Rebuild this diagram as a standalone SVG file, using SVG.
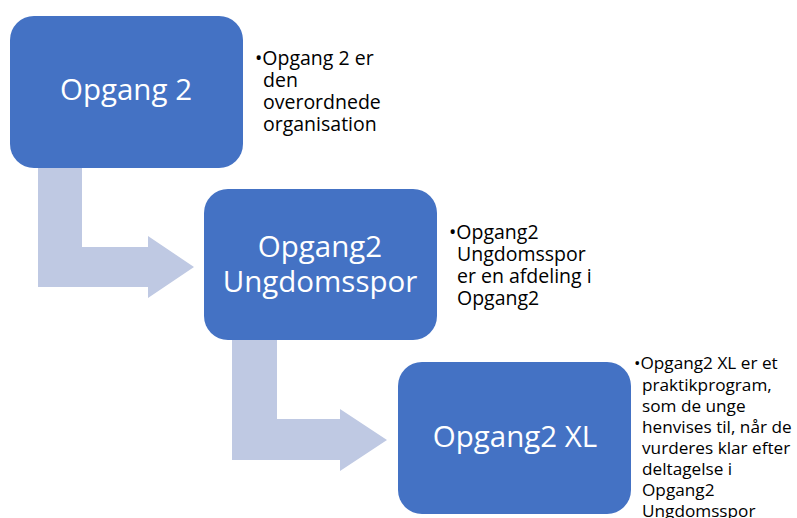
<svg xmlns="http://www.w3.org/2000/svg" width="797" height="518" viewBox="0 0 797 518">
<style>
.box{fill:#4472C4;}
.arrow{fill:#BFC9E3;}
.lbl{font-family:"Open Sans","Liberation Sans",sans-serif;font-size:29.5px;fill:#FFFFFF;text-anchor:middle;}
.txt{font-family:"Open Sans","Liberation Sans",sans-serif;font-size:19.5px;fill:#000000;}
.txt3{font-family:"Open Sans","Liberation Sans",sans-serif;font-size:17.2px;fill:#000000;}
</style>
<rect width="797" height="518" fill="#FFFFFF"/>
<g id="connectors">
<path class="arrow" d="M38,167 H82 V247 H148 V236 L194,267 L148,298 V287 H38 Z"/>
<path class="arrow" d="M232,340 H277 V419 H340 V409 L387,440 L340,471 V460 H232 Z"/>
</g>
<g id="node-opgang2">
<rect class="box" x="10" y="16" width="233" height="152" rx="24" ry="24"/>
<text class="lbl" x="126" y="100">Opgang 2</text>
</g>
<g id="note-opgang2">
<text class="txt"><tspan x="255" y="65">•Opgang 2 er</tspan><tspan x="263" y="87">den</tspan><tspan x="263" y="109">overordnede</tspan><tspan x="263" y="131">organisation</tspan></text>
</g>
<g id="node-ungdomsspor">
<rect class="box" x="204" y="189" width="233" height="151" rx="24" ry="24"/>
<text class="lbl"><tspan x="320" y="257">Opgang2</tspan><tspan x="320" y="292">Ungdomsspor</tspan></text>
</g>
<g id="note-ungdomsspor">
<text class="txt"><tspan x="449" y="239">•Opgang2</tspan><tspan x="457" y="261">Ungdomsspor</tspan><tspan x="457" y="283">er en afdeling i</tspan><tspan x="457" y="305">Opgang2</tspan></text>
</g>
<g id="node-xl">
<rect class="box" x="398" y="362" width="233" height="152" rx="24" ry="24"/>
<text class="lbl" x="515" y="447">Opgang2 XL</text>
</g>
<g id="note-xl">
<text class="txt3"><tspan x="634" y="369">•Opgang2 XL er et</tspan><tspan x="642" y="390.5">praktikprogram,</tspan><tspan x="642" y="411.5">som de unge</tspan><tspan x="642" y="432.5">henvises til, når de</tspan><tspan x="642" y="453.5">vurderes klar efter</tspan><tspan x="642" y="475">deltagelse i</tspan><tspan x="642" y="496">Opgang2</tspan><tspan x="642" y="517">Ungdomsspor</tspan></text>
</g>
</svg>
